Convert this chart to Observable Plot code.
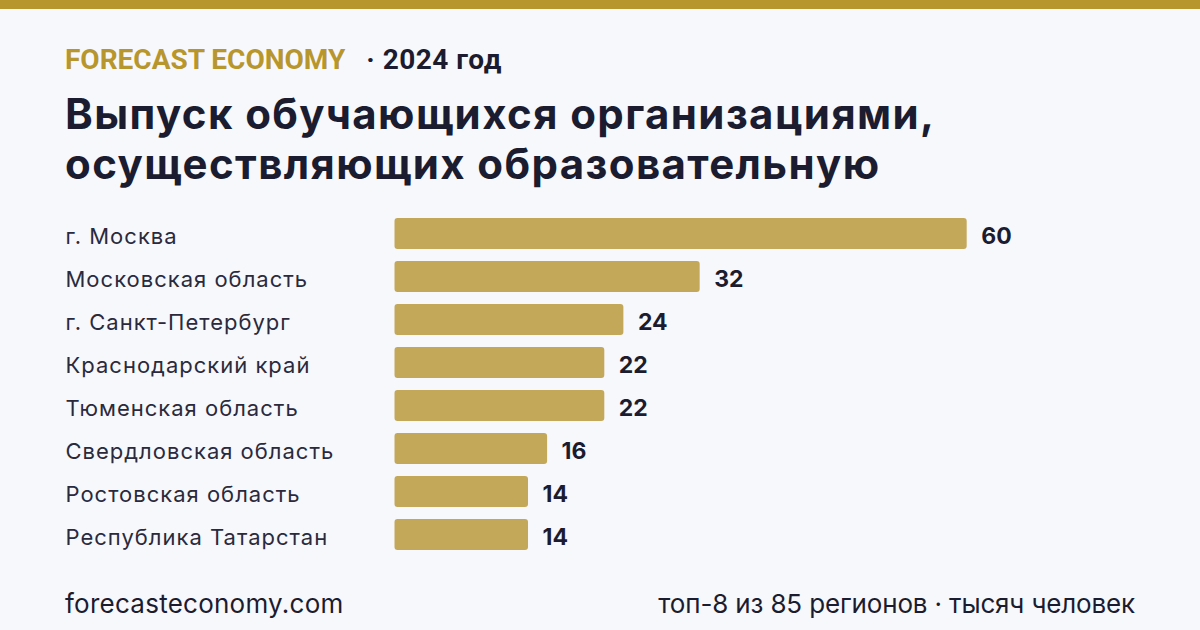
<!DOCTYPE html>
<html lang="ru">
<head>
<meta charset="utf-8">
<script src="https://cdn.jsdelivr.net/npm/d3@7"></script>
<script src="https://cdn.jsdelivr.net/npm/@observablehq/plot@0.6"></script>
<style>
  html, body { margin: 0; padding: 0; }
  body {
    width: 1200px; height: 630px; overflow: hidden; position: relative;
    background: #f7f8fc; font-family: Inter, "Noto Sans", sans-serif; color: #1c1c30;
  }
  .topbar { position: absolute; left: 0; top: 0; width: 1200px; height: 9px; background: #b8962e; }
  .brand { position: absolute; left: 65px; top: 42px; font-family: Roboto, Inter, sans-serif; font-weight: 700; font-size: 28px; line-height: 36px; white-space: nowrap; }
  .brand .name { color: #b8962e; }
  .brand .year { color: #1c1c30; margin-left: 21px; letter-spacing: 0.5px; }
  .title { position: absolute; left: 65px; top: 89px; font-weight: 700; font-size: 42px; line-height: 50px; color: #1c1c30; letter-spacing: 1.4px; white-space: nowrap; }
  #chart { position: absolute; left: 0; top: 200px; }
  #chart svg { display: block; }
  .foot { position: absolute; top: 587px; font-size: 26px; line-height: 34px; color: #1c1c30; white-space: nowrap; }
  .foot.left { left: 65px; letter-spacing: 0.25px; }
  .foot.right { right: 65px; letter-spacing: -0.15px; }
</style>
</head>
<body>
<div class="topbar"></div>
<div class="brand"><span class="name">FORECAST ECONOMY</span><span class="year">· 2024 год</span></div>
<div class="title">Выпуск обучающихся организациями,<br>осуществляющих образовательную</div>
<div id="chart"></div>
<div class="foot left">forecasteconomy.com</div>
<div class="foot right">топ-8 из 85 регионов · тысяч человек</div>
<script>
// Выпуск, тысяч человек — топ-8 регионов
const regions = [
  "г. Москва",
  "Московская область",
  "г. Санкт-Петербург",
  "Краснодарский край",
  "Тюменская область",
  "Свердловская область",
  "Ростовская область",
  "Республика Татарстан"
];
const graduates = [60, 32, 24, 22, 22, 16, 14, 14];

const rows = regions.map((region, i) => ({region, value: graduates[i]}));

const chart = Plot.plot({
  width: 1200,
  height: 370,
  marginLeft: 394.5,
  marginRight: 233.3,
  marginTop: 6,
  marginBottom: 8,
  style: {background: "transparent", fontFamily: "Inter, 'Noto Sans', sans-serif", color: "#1c1c30"},
  x: {domain: [0, 60], axis: null},
  y: {domain: regions, padding: 0.28, round: false, label: null},
  marks: [
    Plot.barX(rows, {x: "value", y: "region", fill: "#c4a85a", rx: 3}),
    Plot.text(rows, {
      x: "value", y: "region", text: d => d3.format("d")(d.value),
      textAnchor: "start", dx: 14, dy: 3, fontSize: 23, fontWeight: 700, fill: "#1c1c30",
      style: {letterSpacing: "0.5px"}
    }),
    Plot.axisY({
      tickSize: 0, tickPadding: 0, textAnchor: "start", dx: 65 - 394.5, dy: 3,
      fontSize: 22, fill: "#2a2a3c", label: null
    })
  ]
});
chart.querySelectorAll("[aria-label='y-axis tick label'] text").forEach(t => t.style.letterSpacing = "1px");
document.getElementById("chart").append(chart);
</script>
</body>
</html>
